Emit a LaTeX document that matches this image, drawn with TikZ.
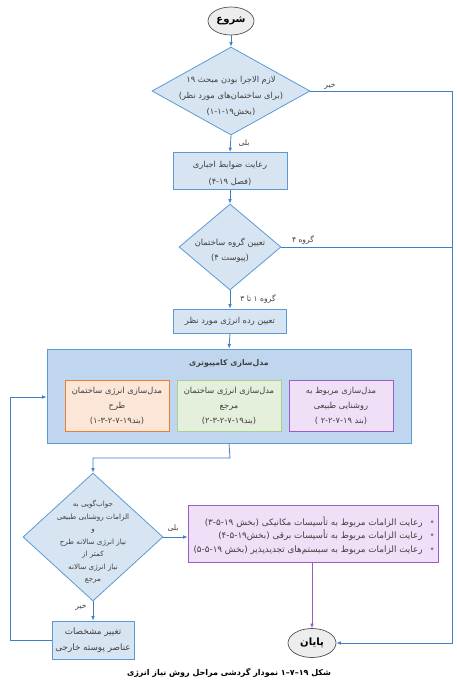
\documentclass[tikz,border=0pt]{standalone}
\usepackage{fontspec}
\newfontfamily\fa[Script=Arabic]{DejaVu Sans}
\TeXXeTstate=1
\usetikzlibrary{shapes.geometric,arrows.meta}
\definecolor{bfill}{HTML}{D7E4F2}
\definecolor{bigfill}{HTML}{BFD6EE}
\definecolor{bdraw}{HTML}{5B9BD5}
\definecolor{acol}{HTML}{3F7FC4}
\definecolor{ofill}{HTML}{FCE6D8}
\definecolor{odraw}{HTML}{ED7D31}
\definecolor{gfill}{HTML}{E4F0DB}
\definecolor{gdraw}{HTML}{A9D08E}
\definecolor{pfill}{HTML}{EFE0F8}
\definecolor{pdraw}{HTML}{9B5BC8}
\definecolor{tcol}{HTML}{404040}
\definecolor{efill}{HTML}{EDEDED}
\definecolor{edraw}{HTML}{505050}
\newcommand\RL[1]{\beginR #1\endR}
\newcommand\pbul{\hspace{7pt}\textcolor{pdraw}{•}}
\begin{document}
\begin{tikzpicture}[x=1pt,y=-1pt,
  boxn/.style={rectangle,draw=bdraw,fill=bfill,line width=0.8pt,inner sep=0pt},
  dian/.style={diamond,draw=bdraw,fill=bfill,line width=0.8pt,inner sep=0pt},
  ellip/.style={ellipse,draw=edraw,fill=efill,line width=0.7pt,inner sep=0pt},
  txt/.style={font=\fa\fontsize{8.3}{15}\selectfont,text=tcol,align=center,inner sep=0pt},
  lbl/.style={font=\fa\fontsize{7.6}{9}\selectfont,text=tcol,inner sep=0pt},
  arr/.style={-{Latex[length=4.5pt,width=3.6pt]},draw=acol,line width=0.8pt},
  plain/.style={draw=acol,line width=0.8pt}]
\useasboundingbox (0,0) rectangle (457,681);
\fill[white] (0,0) rectangle (457,681);

% nodes
\node[ellip,minimum width=46,minimum height=28] (start) at (231,21) {};
\node[txt,font=\fa\fontsize{10}{12}\selectfont\bfseries,text=black] (starttx) at (start) {\RL{شروع}};

\node[dian,minimum width=158,minimum height=88] (d1) at (231,91) {};
\node[txt,font=\fa\fontsize{8.3}{16}\selectfont] (d1tx) at (231,96) {\RL{لازم الاجرا بودن مبحث ۱۹}\\\RL{(برای ساختمان‌های مورد نظر)}\\\RL{(بخش۱۹‐۱‐۱)}};

\node[boxn,minimum width=114,minimum height=37] (b1) at (230,171) {};
\node[txt,font=\fa\fontsize{8.3}{17}\selectfont] (b1tx) at (230,173) {\RL{رعایت ضوابط اجباری}\\\RL{(فصل ۱۹‐۴)}};

\node[dian,minimum width=102,minimum height=86] (d2) at (230,247) {};
\node[txt] (d2tx) at (230,250) {\RL{تعیین گروه ساختمان}\\\RL{(پیوست ۴)}};

\node[boxn,minimum width=113,minimum height=24] (b2) at (230,321) {};
\node[txt] (b2tx) at (b2) {\RL{تعیین رده انرژی مورد نظر}};

\node[boxn,fill=bigfill,minimum width=364,minimum height=94] (big) at (229,396) {};
\node[txt,font=\fa\fontsize{7.8}{15}\selectfont\bfseries] (bigtx) at (229,363) {\RL{مدل‌سازی کامپیوتری}};

\node[rectangle,draw=odraw,fill=ofill,line width=0.8pt,minimum width=104,minimum height=51] (m1) at (117,405.5) {};
\node[txt] (m1tx) at (m1) {\RL{مدل‌سازی انرژی ساختمان}\\\RL{طرح}\\\RL{(بند۱۹‐۷‐۲‐۳‐۱)}};
\node[rectangle,draw=gdraw,fill=gfill,line width=0.8pt,minimum width=104,minimum height=51] (m2) at (229,405.5) {};
\node[txt] (m2tx) at (m2) {\RL{مدل‌سازی انرژی ساختمان}\\\RL{مرجع}\\\RL{(بند۱۹‐۷‐۲‐۳‐۲)}};
\node[rectangle,draw=pdraw,fill=pfill,line width=0.8pt,minimum width=104,minimum height=51] (m3) at (341,405.5) {};
\node[txt] (m3tx) at (m3) {\RL{مدل‌سازی مربوط به}\\\RL{روشنایی طبیعی}\\\RL{(بند ۱۹‐۷‐۲‐۲ )}};

\node[dian,minimum width=140,minimum height=128] (d3) at (93,537) {};
\node[txt,font=\fa\fontsize{7.2}{12.5}\selectfont] (d3tx) at (93,542) {\RL{جواب‌گویی به}\\\RL{الزامات روشنایی طبیعی}\\\RL{و}\\\RL{نیاز انرژی سالانه طرح}\\\RL{کمتر از}\\\RL{نیاز انرژی سالانه}\\\RL{مرجع}};

\node[rectangle,draw=pdraw,fill=pfill,line width=0.8pt,minimum width=250,minimum height=57] (pb) at (313,533.5) {};
\node[txt,align=right,font=\fa\fontsize{8.8}{13.5}\selectfont,anchor=east] (pbtx) at (435,535.5) {\RL{رعایت الزامات مربوط به تأسیسات مکانیکی (بخش ۱۹‐۵‐۳)}\pbul\\\RL{رعایت الزامات مربوط به تأسیسات برقی (بخش۱۹‐۵‐۴)}\pbul\\\RL{رعایت الزامات مربوط به سیستم‌های تجدیدپذیر (بخش ۱۹‐۵‐۵)}\pbul};

\node[boxn,minimum width=82,minimum height=38] (b3) at (93,640) {};
\node[txt,font=\fa\fontsize{8.8}{16}\selectfont] (b3tx) at (b3) {\RL{تغییر مشخصات}\\\RL{عناصر پوسته خارجی}};

\node[ellip,minimum width=48,minimum height=29] (end) at (312,643) {};
\node[txt,font=\fa\fontsize{10}{12}\selectfont\bfseries,text=black] (endtx) at (end) {\RL{پایان}};

\node[txt,font=\fa\fontsize{8}{10}\selectfont\bfseries,text=black] (cap) at (229,673) {\RL{شکل ۱۹–۷–۱ نمودار گردشی مراحل روش نیاز انرژی}};

% labels
\node[lbl] (l1) at (330,86) {\RL{خیر}};
\node[lbl] (l2) at (244,143) {\RL{بلی}};
\node[lbl] (l3) at (303,240) {\RL{گروه ۴}};
\node[lbl] (l4) at (258,299) {\RL{گروه ۱ تا ۳}};
\node[lbl] (l5) at (173,528) {\RL{بلی}};
\node[lbl] (l6) at (81,607) {\RL{خیر}};

% coordinates
\coordinate (c1) at (452,91);
\coordinate (c2) at (452,643);
\coordinate (c3) at (230,458);
\coordinate (c4) at (93,458);
\coordinate (c5) at (10,640);
\coordinate (c6) at (10,397);

% connectors
\draw[arr] (start) -- (d1);
\draw[arr] (d1.east) -- (c1) -- (c2) -- (end.east);
\draw[plain] (d2.east) -- (d2.east -| c1);
\draw[arr] (d1.south) -- (b1.north);
\draw[arr] (b1.south) -- (d2.north);
\draw[arr] (d2.south) -- (b2.north);
\draw[arr] (b2.south) -- (big.north);
\draw[arr] (big.south) -- (c3) -- (c4) -- (d3.north);
\draw[arr] (d3.east) -- (d3.east -| pb.west);
\draw[arr,draw=pdraw] (pb.south -| end.north) -- (end.north);
\draw[arr] (d3.south) -- (b3.north);
\draw[arr] (b3.west) -- (c5) -- (c6) -- (c6 -| big.west);
\end{tikzpicture}
\end{document}
